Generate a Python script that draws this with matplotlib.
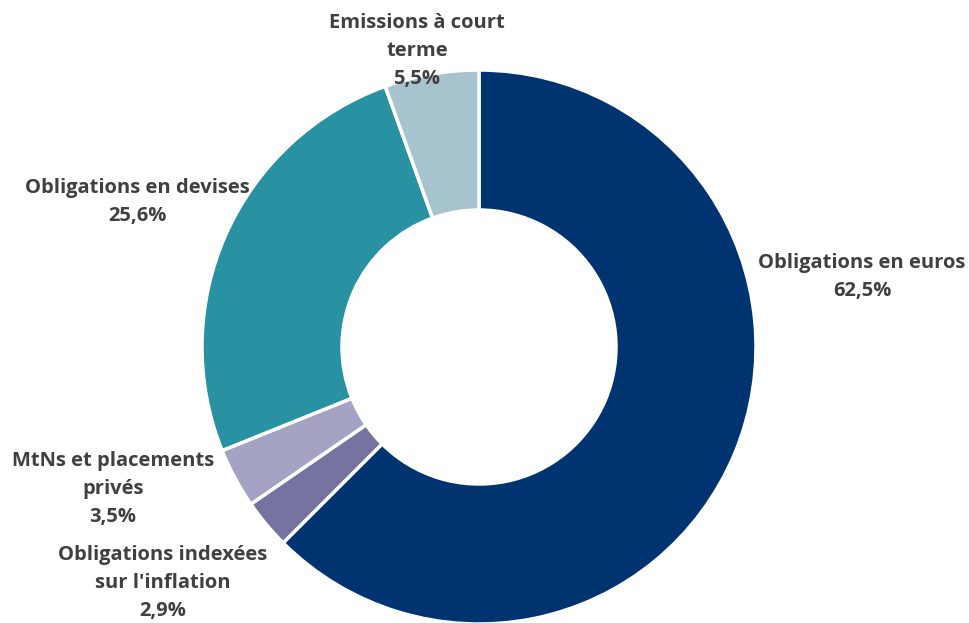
import matplotlib
matplotlib.use('Agg')
from matplotlib import pyplot as plt

labels = ['Obligations en euros', "Obligations indexées\nsur l'inflation",
          'MtNs et placements\nprivés', 'Obligations en devises',
          'Emissions à court\nterme']
values = [62.5, 2.9, 3.5, 25.6, 5.5]
colors = ['#003470', '#75739f', '#a5a3c3', '#2891a2', '#a7c4ce']
# label centres in pixel coords (x, y from top)
label_pos = [(862, 277), (163, 583), (113, 489), (137, 202), (417, 51)]

W, H = 969, 623

def main():
    plt.rcParams['font.family'] = ['Open Sans', 'DejaVu Sans']
    fig = plt.figure(figsize=(W / 100, H / 100), dpi=100)
    ax = fig.add_axes([0, 0, 1, 1])
    ax.set_xlim(0, W)
    ax.set_ylim(0, H)
    ax.set_aspect('equal')
    ax.axis('off')

    ax.pie(values, colors=colors, startangle=90, counterclock=False,
           center=(479, H - 347), radius=277,
           wedgeprops=dict(width=140, edgecolor='white', linewidth=2.5))
    ax.set_xlim(0, W)
    ax.set_ylim(0, H)

    for lab, v, (x, y) in zip(labels, values, label_pos):
        txt = lab + '\n' + ('%.1f%%' % v).replace('.', ',')
        ax.text(x, H - y, txt, ha='center', va='center', fontsize=14.5,
                fontweight='bold', color='#404040', linespacing=1.55)

    fig.savefig('out.png', dpi=100)

if __name__ == "__main__":
    main()
